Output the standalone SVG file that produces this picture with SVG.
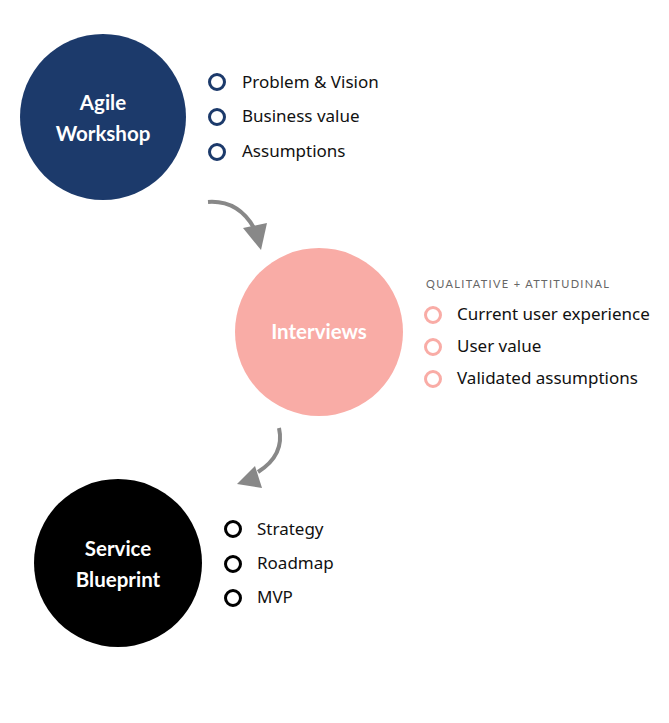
<svg xmlns="http://www.w3.org/2000/svg" width="669" height="723" viewBox="0 0 669 723">
<style>
.lbl{font-family:Lato,"Liberation Sans",sans-serif;font-weight:bold;font-size:20.5px;fill:#fff;text-anchor:middle}
.item{font-family:"Noto Sans","Liberation Sans",sans-serif;font-size:17px;fill:#111}
.hdr{font-family:Lato,"Liberation Sans",sans-serif;font-size:11px;fill:#666;letter-spacing:1.35px}
.b{fill:none;stroke-width:3}
.arr{fill:none;stroke:#888;stroke-width:4}
</style>
<rect width="669" height="723" fill="#fff"/>
<g id="agile">
<circle cx="103" cy="117" r="83" fill="#1c3a6b"/>
<text class="lbl" x="103" y="110">Agile</text>
<text class="lbl" x="103" y="141">Workshop</text>
<circle class="b" stroke="#1c3a6b" cx="217" cy="82" r="7.5"/>
<circle class="b" stroke="#1c3a6b" cx="217" cy="117" r="7.5"/>
<circle class="b" stroke="#1c3a6b" cx="217" cy="152" r="7.5"/>
<text class="item" x="242" y="88">Problem &amp; Vision</text>
<text class="item" x="242" y="122">Business value</text>
<text class="item" x="242" y="157">Assumptions</text>
</g>
<g id="interviews">
<circle cx="319" cy="332" r="84" fill="#f9aca6"/>
<text class="lbl" x="319" y="339">Interviews</text>
<text class="hdr" x="426" y="288">QUALITATIVE + ATTITUDINAL</text>
<circle class="b" stroke="#f9aca6" cx="433" cy="315" r="7.5"/>
<circle class="b" stroke="#f9aca6" cx="433" cy="347" r="7.5"/>
<circle class="b" stroke="#f9aca6" cx="433" cy="379" r="7.5"/>
<text class="item" x="457" y="320">Current user experience</text>
<text class="item" x="457" y="352">User value</text>
<text class="item" x="457" y="384">Validated assumptions</text>
</g>
<g id="blueprint">
<circle cx="118" cy="563" r="84" fill="#000"/>
<text class="lbl" x="118" y="556">Service</text>
<text class="lbl" x="118" y="587">Blueprint</text>
<circle class="b" stroke="#000" cx="233" cy="529" r="7.5"/>
<circle class="b" stroke="#000" cx="233" cy="564" r="7.5"/>
<circle class="b" stroke="#000" cx="233" cy="598" r="7.5"/>
<text class="item" x="257" y="535">Strategy</text>
<text class="item" x="257" y="569">Roadmap</text>
<text class="item" x="257" y="603">MVP</text>
</g>
<g id="connectors">
<path class="arr" d="M208 202 Q238 200 254 228"/>
<polygon fill="#888" points="243,228 267,223 261,250"/>
<path class="arr" d="M279 428 Q285 455 258 472"/>
<polygon fill="#888" points="237,484 255,466 262,488"/>
</g>
</svg>
